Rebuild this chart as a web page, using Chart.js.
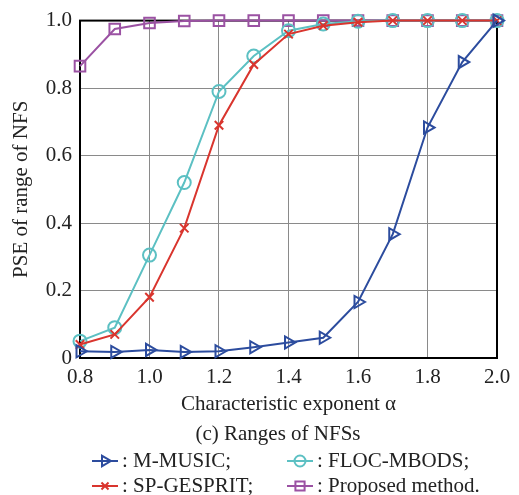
<!DOCTYPE html>
<html>
<head>
<meta charset="utf-8">
<script src="https://cdn.jsdelivr.net/npm/chart.js@4.4.0/dist/chart.umd.min.js"></script>
<style>
  html, body { margin: 0; padding: 0; background: #fff; }
  #wrap { width: 519px; height: 495px; position: relative; }
</style>
</head>
<body>
<div id="wrap"><canvas id="myChart"></canvas></div>
<script>
const alphas = [0.8, 0.9, 1.0, 1.1, 1.2, 1.3, 1.4, 1.5, 1.6, 1.7, 1.8, 1.9, 2.0];
const mMusic   = [0.020, 0.018, 0.024, 0.018, 0.020, 0.032, 0.046, 0.060, 0.166, 0.367, 0.683, 0.877, 1.0];
const spGesprit = [0.040, 0.070, 0.180, 0.385, 0.690, 0.870, 0.960, 0.985, 0.995, 1.0, 1.0, 1.0, 1.0];
const flocMbods = [0.050, 0.090, 0.305, 0.520, 0.790, 0.895, 0.970, 0.990, 0.998, 1.0, 1.0, 1.0, 1.0];
const proposed  = [0.865, 0.975, 0.993, 0.999, 1.0, 1.0, 1.0, 1.0, 1.0, 1.0, 1.0, 1.0, 1.0];
const xTicks = [0.8, 1.0, 1.2, 1.4, 1.6, 1.8, 2.0];
const yTicks = [0, 0.2, 0.4, 0.6, 0.8, 1.0];

const serif = '"Liberation Serif", "DejaVu Serif", serif';
const fs = 21;

function pts(arr) {
    return arr.map((v, i) => ({ x: alphas[i], y: v }));
}

const series = [
    { label: 'M-MUSIC', legend: ': M-MUSIC;', data: mMusic, color: '#2c4c9e', style: 'triangle', rot: 90, r: 7, order: 0 },
    { label: 'FLOC-MBODS', legend: ': FLOC-MBODS;', data: flocMbods, color: '#5cc0c3', style: 'circle', rot: 0, r: 6.5, order: 2 },
    { label: 'SP-GESPRIT', legend: ': SP-GESPRIT;', data: spGesprit, color: '#d9352e', style: 'crossRot', rot: 0, r: 6, order: 1 },
    { label: 'Proposed method', legend: ': Proposed method.', data: proposed, color: '#9b52a3', style: 'rect', rot: 0, r: 7.5, order: 3 }
];

// frame around the plot + caption + legend below
const extras = {
    id: 'extras',
    beforeDatasetsDraw(chart) {
        const { ctx, chartArea: a } = chart;
        ctx.save();
        ctx.strokeStyle = '#000';
        ctx.lineWidth = 2;
        ctx.strokeRect(a.left, a.top, a.right - a.left, a.bottom - a.top);
        ctx.restore();
    },
    afterDraw(chart) {
        const ctx = chart.ctx;
        ctx.save();
        ctx.fillStyle = '#222';
        ctx.font = fs + 'px ' + serif;
        ctx.textBaseline = 'middle';
        ctx.textAlign = 'center';
        ctx.fillText('(c) Ranges of NFSs', 278, 434);
        ctx.textAlign = 'left';
        const cells = [[92, 461], [287, 461], [92, 486], [287, 486]];
        series.forEach((s, k) => {
            const [x, y] = cells[k];
            ctx.strokeStyle = s.color;
            ctx.lineWidth = 2;
            ctx.beginPath();
            ctx.moveTo(x, y);
            ctx.lineTo(x + 26, y);
            ctx.stroke();
            ctx.fillStyle = 'rgba(0,0,0,0)';
            Chart.helpers.drawPoint(ctx, {
                pointStyle: s.style, rotation: s.rot, radius: s.r - 1, borderWidth: 2
            }, x + 13, y);
            ctx.fillStyle = '#222';
            ctx.fillText(s.legend, x + 30, y);
        });
        ctx.restore();
    }
};

const ctx = document.getElementById('myChart').getContext('2d');

const myChart = new Chart(ctx, {
    type: 'line',
    data: {
        datasets: series.map(s => ({
            label: s.label,
            data: pts(s.data),
            borderColor: s.color,
            backgroundColor: 'rgba(0,0,0,0)',
            borderWidth: 2,
            pointStyle: s.style,
            pointRotation: s.rot,
            pointRadius: s.r,
            pointBorderWidth: 2,
            pointBorderColor: s.color,
            pointBackgroundColor: 'rgba(0,0,0,0)',
            tension: 0,
            order: s.order,
            clip: false
        }))
    },
    options: {
        responsive: true,
        maintainAspectRatio: false,
        animation: false,
        layout: { padding: { left: 0, right: 22, top: 17, bottom: 0 } },
        scales: {
            x: {
                type: 'linear',
                min: 0.8,
                max: 2.0,
                afterBuildTicks: s => { s.ticks = xTicks.map(v => ({ value: v })); },
                afterFit: s => { s.height = 137; },
                grid: { color: '#8a8a8a', lineWidth: 1, drawTicks: false },
                border: { display: false },
                ticks: {
                    padding: 7,
                    color: '#222',
                    font: { family: serif, size: fs },
                    maxRotation: 0,
                    callback: v => v.toFixed(1)
                },
                title: {
                    display: true,
                    text: 'Characteristic exponent α',
                    color: '#222',
                    font: { family: serif, size: fs },
                    padding: { top: 0, bottom: 78 }
                }
            },
            y: {
                min: 0,
                max: 1.0,
                afterBuildTicks: s => { s.ticks = yTicks.map(v => ({ value: v })); },
                afterFit: s => { s.width = 80; },
                grid: { color: '#8a8a8a', lineWidth: 1, drawTicks: false },
                border: { display: false },
                ticks: {
                    padding: 8,
                    color: '#222',
                    font: { family: serif, size: fs },
                    callback: v => (v === 0 ? '0' : v.toFixed(1))
                },
                title: {
                    display: true,
                    text: 'PSE of range of NFS',
                    color: '#222',
                    font: { family: serif, size: fs },
                    padding: { top: 9, bottom: 0 }
                }
            }
        },
        plugins: {
            legend: { display: false },
            tooltip: { enabled: false }
        }
    },
    plugins: [extras]
});
</script>
</body>
</html>
